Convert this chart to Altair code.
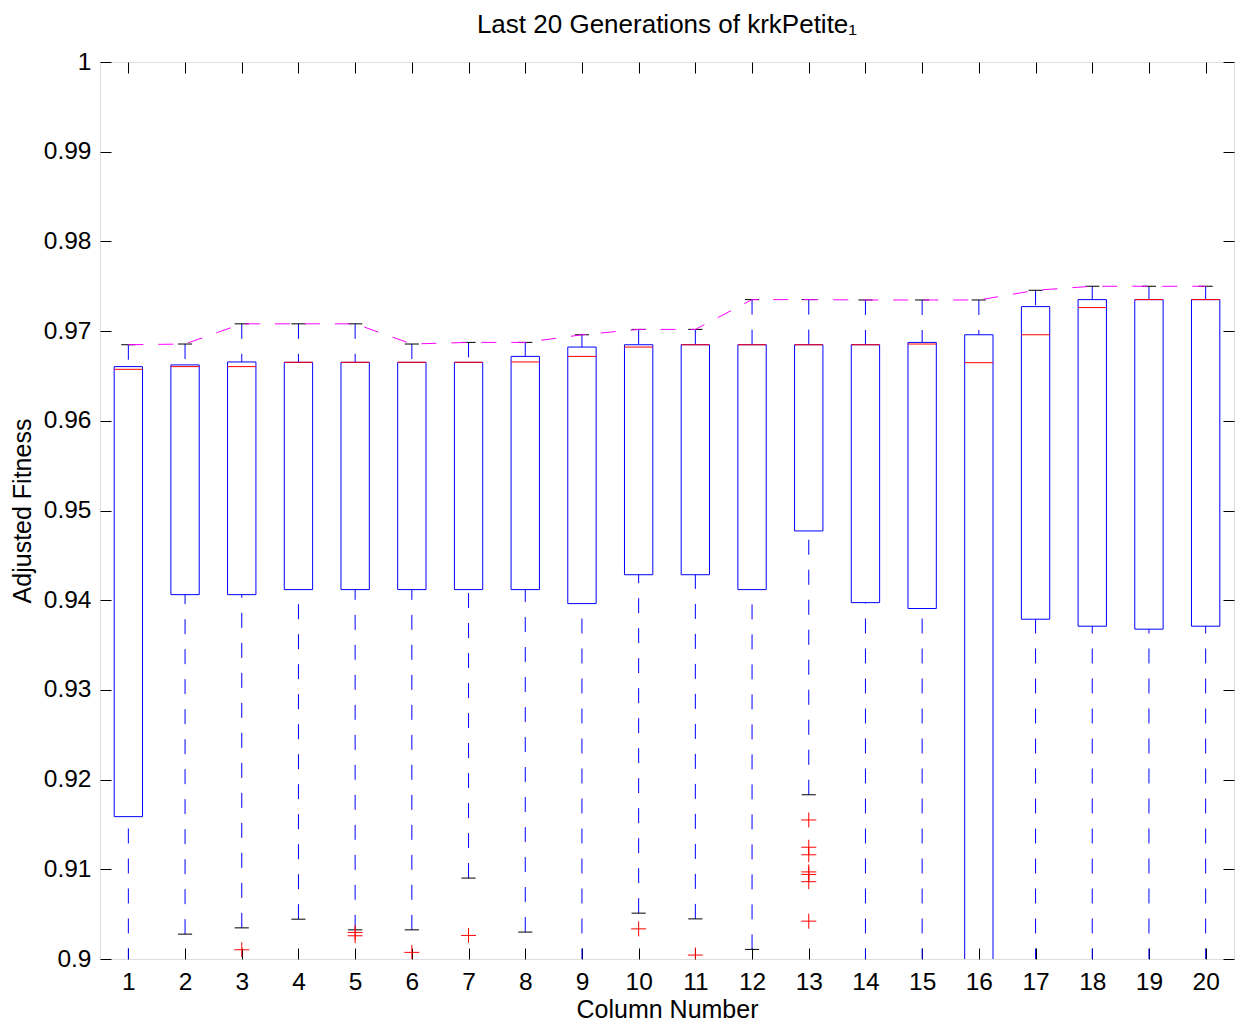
import altair as alt
import pandas as pd

# ---- data ----
columns = list(range(1, 21))
lower_whisker = [0.8995, 0.90277, 0.90347, 0.90444, 0.90325, 0.90325, 0.90902, 0.90300, 0.8995, 0.90511,
                 0.90447, 0.90107, 0.91831, 0.8995, 0.8995, 0.8950, 0.8995, 0.8995, 0.8995, 0.8995]
q1 = [0.91587, 0.94062, 0.94062, 0.94118, 0.94118, 0.94118, 0.94118, 0.94118, 0.93962, 0.94284,
      0.94284, 0.94118, 0.94772, 0.93973, 0.93907, 0.8980, 0.93788, 0.93710, 0.93677, 0.93710]
median = [0.96574, 0.96604, 0.96604, 0.96652, 0.96652, 0.96652, 0.96652, 0.96656, 0.96718, 0.96822,
          0.96848, 0.96848, 0.96848, 0.96848, 0.96856, 0.96648, 0.96959, 0.97262, 0.97351, 0.97351]
q3 = [0.96604, 0.96623, 0.96656, 0.96652, 0.96652, 0.96652, 0.96652, 0.96718, 0.96822, 0.96848,
      0.96848, 0.96848, 0.96848, 0.96848, 0.96874, 0.96959, 0.97273, 0.97351, 0.97351, 0.97351]
upper_whisker = [0.96848, 0.96856, 0.97081, 0.97081, 0.97081, 0.96856, 0.96874, 0.96874, 0.96959, 0.97019,
                 0.97019, 0.97351, 0.97351, 0.97347, 0.97347, 0.97347, 0.97455, 0.97500, 0.97500, 0.97500]
outlier_col = [3, 5, 5, 6, 7, 10, 11, 13, 13, 13, 13, 13, 13, 13]
outlier_val = [0.90103, 0.90296, 0.90259, 0.90074, 0.90263, 0.90336, 0.90044,
               0.91550, 0.91246, 0.91162, 0.90971, 0.90943, 0.90862, 0.90422]
y_ticks = [0.90, 0.91, 0.92, 0.93, 0.94, 0.95, 0.96, 0.97, 0.98, 0.99, 1.00]
x_ticks = columns

W, H = 1134, 897
FONT = "Liberation Sans"

df = pd.DataFrame({"col": columns, "lo": lower_whisker, "q1": q1, "med": median,
                   "q3": q3, "hi": upper_whisker})
df["bx1"] = df["col"] - 0.25
df["bx2"] = df["col"] + 0.25
df["cx1"] = df["col"] - 0.125
df["cx2"] = df["col"] + 0.125
out_df = pd.DataFrame({"col": outlier_col, "val": outlier_val})

xs = alt.Scale(domain=[0.5, 20.5], nice=False, zero=False)
ys = alt.Scale(domain=[0.9, 1.0], nice=False, zero=False)

main_x = alt.Axis(orient="bottom", values=x_ticks, format="d", ticks=False, tickSize=0, domain=False,
                  grid=False, labelAngle=0, labelFontSize=24.5, labelPadding=11, labelColor="black",
                  labelFont=FONT, title="Column Number", titleFont=FONT, titleFontSize=25,
                  titleFontWeight="normal", titleColor="black", titleBaseline="alphabetic",
                  titleY=58, titleX=W / 2)
main_y = alt.Axis(orient="left", values=y_ticks, format="~g", ticks=False, tickSize=0, domain=False,
                  grid=False, labelFontSize=24.5, labelPadding=9, labelColor="black", labelFont=FONT,
                  title="Adjusted Fitness", titleFont=FONT, titleFontSize=25, titleFontWeight="normal",
                  titleColor="black", titleBaseline="alphabetic", titleAngle=270,
                  titleX=-70, titleY=H / 2)


def tick_axis(orient, values):
    off = -W if orient in ("left", "right") else -H
    return alt.Axis(orient=orient, offset=off, values=values, labels=False, ticks=True, tickSize=11,
                    tickColor="black", tickWidth=1, domain=False, grid=False, title=None)


base = alt.Chart(df)

whisk_lo = base.mark_rule(color="#0000ff", strokeWidth=1, strokeDash=[15, 15], clip=True).encode(
    x=alt.X("col:Q", scale=xs, axis=None),
    y=alt.Y("lo:Q", scale=ys, axis=None), y2="q1:Q")
whisk_hi = base.mark_rule(color="#0000ff", strokeWidth=1, strokeDash=[15, 15], clip=True).encode(
    x=alt.X("col:Q", scale=xs, axis=None),
    y=alt.Y("hi:Q", scale=ys, axis=None), y2="q3:Q")
caps_lo = base.mark_rule(color="black", strokeWidth=1, clip=True).encode(
    x=alt.X("cx1:Q", scale=xs, axis=None), x2="cx2:Q",
    y=alt.Y("lo:Q", scale=ys, axis=None))
caps_hi = base.mark_rule(color="black", strokeWidth=1, clip=True).encode(
    x=alt.X("cx1:Q", scale=xs, axis=tick_axis("bottom", x_ticks)), x2="cx2:Q",
    y=alt.Y("hi:Q", scale=ys, axis=tick_axis("left", y_ticks)))
boxes = base.mark_rect(stroke="#0000ff", strokeWidth=1, fill="white", fillOpacity=0, clip=True).encode(
    x=alt.X("bx1:Q", scale=xs, axis=main_x), x2="bx2:Q",
    y=alt.Y("q1:Q", scale=ys, axis=main_y), y2="q3:Q")
medians = base.mark_rule(color="#ff0000", strokeWidth=1, clip=True).encode(
    x=alt.X("bx1:Q", scale=xs, axis=tick_axis("top", x_ticks)), x2="bx2:Q",
    y=alt.Y("med:Q", scale=ys, axis=tick_axis("right", y_ticks)))
outliers = alt.Chart(out_df).mark_point(shape="M-1,0L1,0M0,-1L0,1", size=225, filled=False,
                                        stroke="#ff0000", strokeWidth=1, opacity=1, clip=True).encode(
    x=alt.X("col:Q", scale=xs, axis=None),
    y=alt.Y("val:Q", scale=ys, axis=None))
maxline = base.mark_line(color="#ff00ff", strokeWidth=1, strokeDash=[15, 15], clip=True).encode(
    x=alt.X("col:Q", scale=xs, axis=None),
    y=alt.Y("hi:Q", scale=ys, axis=None))

chart = alt.layer(whisk_lo, whisk_hi, caps_lo, caps_hi, boxes, medians, outliers, maxline).resolve_axis(
    x="independent", y="independent"
).properties(
    width=W, height=H,
    autosize=alt.AutoSizeParams(type="none"),
    padding={"left": 92, "top": 54, "right": 1, "bottom": 64},
    title=alt.TitleParams(text="Last 20 Generations of krkPetite₁", font=FONT, fontSize=26,
                          fontWeight="normal", color="black", anchor="middle", frame="group",
                          baseline="alphabetic", offset=20, dy=30),
).configure_view(stroke="black", strokeWidth=1).configure(background="white")

chart.save("out.html", embed_options={"renderer": "svg", "actions": False})
